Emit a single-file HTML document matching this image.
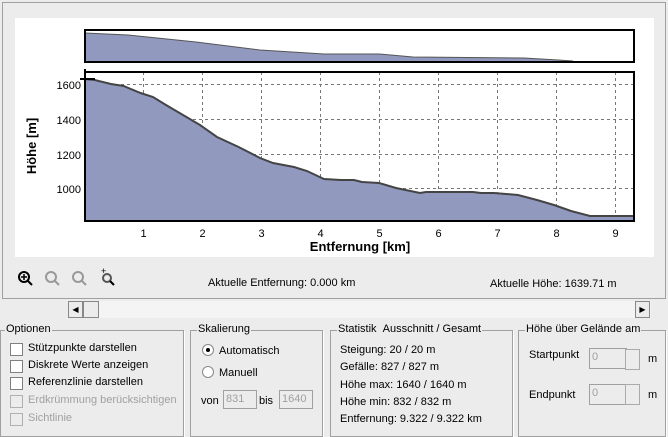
<!DOCTYPE html>
<html><head><meta charset="utf-8"><style>
body{margin:0;width:668px;height:431px;background:#ececec;font-family:"Liberation Sans",sans-serif;font-size:11px;color:#000;position:relative;overflow:hidden}
.a{position:absolute}
.gb{position:absolute;border:1px solid #a0a0a0;box-shadow:1px 1px 0 #fff}
.gt{position:absolute;top:-8px;left:6px;background:#ececec;padding:0 1px;font-size:11px}
.cb{position:absolute;width:11px;height:11px;border:1px solid #808080;background:#fff}
.dis{color:#a0a0a0}
.dis .cb{background:#ececec;border-color:#b0b0b0}
.tb{position:absolute;border:1px solid #a0a0a0;background:#ececec;color:#a0a0a0;font-size:11px;padding-left:2px;line-height:17px;height:17px}
</style></head><body>
<div class="a" style="left:2px;top:2px;width:662px;height:295px;border:1px solid #a0a0a0"></div>
<div class="a" style="left:15px;top:18px;width:639px;height:239px;background:#fff"></div>
<svg class="a" style="left:0;top:0" width="668" height="300">
<g stroke="#777" stroke-dasharray="3,3" stroke-width="1">
<line x1="85" x2="634" y1="84.5" y2="84.5"/><line x1="85" x2="634" y1="119.5" y2="119.5"/><line x1="85" x2="634" y1="154.5" y2="154.5"/><line x1="85" x2="634" y1="188.5" y2="188.5"/>
<line x1="143.5" x2="143.5" y1="72" y2="221"/><line x1="202.5" x2="202.5" y1="72" y2="221"/><line x1="261.5" x2="261.5" y1="72" y2="221"/><line x1="320.5" x2="320.5" y1="72" y2="221"/><line x1="379.5" x2="379.5" y1="72" y2="221"/><line x1="438.5" x2="438.5" y1="72" y2="221"/><line x1="497.5" x2="497.5" y1="72" y2="221"/><line x1="556.5" x2="556.5" y1="72" y2="221"/><line x1="615.5" x2="615.5" y1="72" y2="221"/>
</g>
<polygon fill="#9299bf" stroke="none" points="85,221 85,79 94.6,80 111,84 123.6,86 140.6,93 153,97 166,105 183,115 200,125 217,137 238.6,147 260,158 273,163 294,167 307,171 324,179 341,180 354,180 362,182 379,183 396,188 420,193 426,192 473,192 481,193 494,193 518,195 537,200 554,205 571,211 590,216 634,216 634,221"/>
<polyline fill="none" stroke="#444" stroke-width="2" points="85,79 94.6,80 111,84 123.6,86 140.6,93 153,97 166,105 183,115 200,125 217,137 238.6,147 260,158 273,163 294,167 307,171 324,179 341,180 354,180 362,182 379,183 396,188 420,193 426,192 473,192 481,193 494,193 518,195 537,200 554,205 571,211 590,216 634,216"/>
<rect x="85" y="72" width="549" height="149" fill="none" stroke="#000" stroke-width="2"/>
<line x1="85" x2="85" y1="69" y2="72" stroke="#000" stroke-width="2"/><line x1="80" x2="95" y1="79" y2="79" stroke="#000" stroke-width="2"/>
<polygon fill="#9299bf" points="85,62 85,33 128,35 196,42 260,50 324,54 379,54 413,57 524,58 558,60 573,61 573,62"/>
<polyline fill="none" stroke="#555" stroke-width="1" points="85,33 128,35 196,42 260,50 324,54 379,54 413,57 524,58 558,60 573,61"/>
<rect x="85" y="30" width="549" height="32" fill="none" stroke="#000" stroke-width="2"/>
<g font-family="Liberation Sans" font-size="11" text-anchor="end">
<text x="81" y="89">1600</text><text x="81" y="124">1400</text><text x="81" y="159">1200</text><text x="81" y="193">1000</text></g>
<g font-family="Liberation Sans" font-size="11" text-anchor="middle">
<text x="143.5" y="237">1</text><text x="202.5" y="237">2</text><text x="261.5" y="237">3</text><text x="320.5" y="237">4</text><text x="379.5" y="237">5</text><text x="438.5" y="237">6</text><text x="497.5" y="237">7</text><text x="556.5" y="237">8</text><text x="615.5" y="237">9</text>
<text x="360" y="251" font-weight="bold" font-size="13">Entfernung [km]</text></g>
<text transform="translate(36,146) rotate(-90)" text-anchor="middle" font-family="Liberation Sans" font-weight="bold" font-size="13">Höhe [m]</text>
<g fill="none" stroke-width="2">
<circle cx="24" cy="277" r="5" stroke="#000"/><line x1="28" y1="281" x2="32" y2="285" stroke="#000"/>
<circle cx="51" cy="277" r="5" stroke="#999"/><line x1="55" y1="281" x2="59" y2="285" stroke="#999"/>
<circle cx="78" cy="277" r="5" stroke="#999"/><line x1="82" y1="281" x2="86" y2="285" stroke="#999"/>
<circle cx="107" cy="278" r="4" stroke="#555"/><line x1="110" y1="281" x2="114" y2="285" stroke="#000"/>
</g>
<path d="M21 277h6M24 274v6" stroke="#000" stroke-width="1.5"/>
<text x="101" y="274" font-size="9" font-family="Liberation Sans">+</text>
<text x="208" y="286" font-family="Liberation Sans" font-size="11">Aktuelle Entfernung: 0.000 km</text>
<text x="490" y="287" font-family="Liberation Sans" font-size="11">Aktuelle Höhe: 1639.71 m</text>
</svg>
<div class="a" style="left:68px;top:301px;width:583px;height:17px;background:#f4f4f4"></div>
<div class="a" style="left:68px;top:301px;width:13px;height:15px;border:1px solid #888;background:#ececec;font-size:8px;text-align:center;line-height:15px">◀</div>
<div class="a" style="left:83px;top:301px;width:14px;height:15px;border:1px solid #888;background:#ececec"></div>
<div class="a" style="left:635px;top:301px;width:13px;height:15px;border:1px solid #888;background:#ececec;font-size:8px;text-align:center;line-height:15px">▶</div>

<div class="gb" style="left:0;top:330px;width:182px;height:105px"><span class="gt" style="left:4px">Optionen</span></div>
<div class="cb" style="left:10px;top:343px"></div><div class="a" style="left:28px;top:342px">Stützpunkte darstellen</div>
<div class="cb" style="left:10px;top:360px"></div><div class="a" style="left:28px;top:359px">Diskrete Werte anzeigen</div>
<div class="cb" style="left:10px;top:377px"></div><div class="a" style="left:28px;top:376px">Referenzlinie darstellen</div>
<div class="dis"><div class="cb" style="left:10px;top:395px"></div><div class="a" style="left:28px;top:394px">Erdkrümmung berücksichtigen</div>
<div class="cb" style="left:10px;top:413px"></div><div class="a" style="left:28px;top:412px">Sichtlinie</div></div>

<div class="gb" style="left:190px;top:330px;width:131px;height:105px"><span class="gt" style="left:6px">Skalierung</span></div>
<div class="a" style="left:202px;top:344px;width:10px;height:10px;border-radius:50%;border:1px solid #888;background:#fff"><div class="a" style="left:3px;top:3px;width:4px;height:4px;border-radius:50%;background:#000"></div></div>
<div class="a" style="left:219px;top:345px">Automatisch</div>
<div class="a" style="left:202px;top:366px;width:10px;height:10px;border-radius:50%;border:1px solid #888;background:#fff"></div>
<div class="a" style="left:219px;top:367px">Manuell</div>
<div class="a" style="left:201px;top:395px">von</div><div class="tb" style="left:223px;top:390px;width:30px">831</div>
<div class="a" style="left:259px;top:395px">bis</div><div class="tb" style="left:279px;top:390px;width:30px">1640</div>

<div class="gb" style="left:330px;top:330px;width:181px;height:105px"><span class="gt" style="left:6px">Statistik &nbsp;Ausschnitt / Gesamt</span></div>
<div class="a" style="left:340px;top:342px;line-height:17.3px">Steigung: 20 / 20 m<br>Gefälle: 827 / 827 m<br>Höhe max: 1640 / 1640 m<br>Höhe min: 832 / 832 m<br>Entfernung: 9.322 / 9.322 km</div>

<div class="gb" style="left:518px;top:330px;width:146px;height:105px"><span class="gt" style="left:6px">Höhe über Gelände am</span></div>
<div class="a" style="left:529px;top:349px">Startpunkt</div>
<div class="tb" style="left:589px;top:348px;width:34px;height:19px"> 0</div>
<div class="a" style="left:625px;top:349px;width:13px;height:19px;border:1px solid #aaa;background:#ececec"></div>
<div class="a" style="left:648px;top:353px">m</div>
<div class="a" style="left:529px;top:389px">Endpunkt</div>
<div class="tb" style="left:589px;top:384px;width:34px;height:19px"> 0</div>
<div class="a" style="left:625px;top:384px;width:13px;height:19px;border:1px solid #aaa;background:#ececec"></div>
<div class="a" style="left:648px;top:389px">m</div>
</body></html>
